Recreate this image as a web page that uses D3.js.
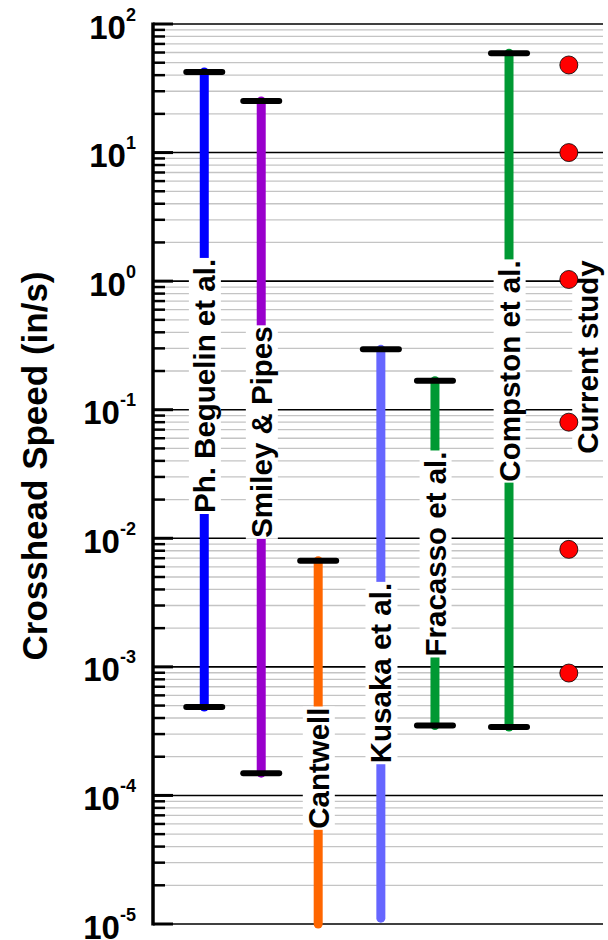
<!DOCTYPE html>
<html>
<head>
<meta charset="utf-8">
<script src="https://cdn.jsdelivr.net/npm/d3@7"></script>
<style>
  html, body { margin: 0; padding: 0; background: #fff; }
  svg { display: block; }
  text { font-family: "Liberation Sans", Arial, Helvetica, sans-serif; font-weight: bold; }
</style>
</head>
<body>
<svg id="chart" width="608" height="940"></svg>
<script>
// ---------------- data ----------------
const categories = ["Ph. Beguelin et al.", "Smiley & Pipes", "Cantwell", "Kusaka et al.", "Fracasso et al.", "Compston et al."];
const categoryX = [1, 2, 3, 4.1, 5.05, 6.35];          // x slot of each study
const lowSpeed  = [4.87e-4, 1.49e-4, 1.0e-5, 1.11e-5, 3.5e-4, 3.4e-4];
const highSpeed = [42.4, 25.2, 6.7e-3, 0.295, 0.168, 59.2];
const lowCap    = [true, true, false, false, true, true];
const highCap   = [true, true, true, true, true, true];
const colors    = ["#0000FF", "#9900CC", "#FF6600", "#6666FF", "#009933", "#009933"];
const labelSpeed = [0.153, 0.067, 1.63e-4, 8.95e-4, 7.55e-3, 0.2]; // where each label sits

const currentLabel = "Current study";
const currentX = 7.4;
const currentLabelX = 7.73;
const currentLabelSpeed = 0.257;
const currentSpeeds = [48, 10, 1.03, 0.08, 0.0082, 8.95e-4];

const yTickExponents = [2, 1, 0, -1, -2, -3, -4, -5];
const yTitle = "Crosshead Speed (in/s)";

// ---------------- layout ----------------
const plotL = 153, plotR = 603, plotT = 24, plotB = 924;
const svg = d3.select("#chart");

const y = d3.scaleLog().domain([1e-5, 100]).range([plotB, plotT]);
const x = d3.scaleLinear().domain([0.1, 8]).range([plotL, plotR]);

// minor grid lines
const minorVals = [];
for (let e = -5; e < 2; e++) for (let m = 2; m <= 9; m++) minorVals.push(m * Math.pow(10, e));
const majorVals = yTickExponents.map(e => Math.pow(10, e));

const grid = svg.append("g");
grid.selectAll("line.minor").data(minorVals).join("line")
  .attr("class", "minor")
  .attr("x1", plotL).attr("x2", plotR)
  .attr("y1", d => y(d)).attr("y2", d => y(d))
  .attr("stroke", "#c4c4c4").attr("stroke-width", 1.3);
grid.selectAll("line.major").data(majorVals).join("line")
  .attr("class", "major")
  .attr("x1", plotL).attr("x2", plotR)
  .attr("y1", d => y(d)).attr("y2", d => y(d))
  .attr("stroke", "#000").attr("stroke-width", 1.6);

// axis (ticks inward)
const axis = svg.append("g");
axis.selectAll("line.mt").data(minorVals).join("line")
  .attr("class", "mt")
  .attr("x1", plotL).attr("x2", plotL + 12)
  .attr("y1", d => y(d)).attr("y2", d => y(d))
  .attr("stroke", "#000").attr("stroke-width", 2.5);
axis.selectAll("line.Mt").data(majorVals).join("line")
  .attr("class", "Mt")
  .attr("x1", plotL).attr("x2", plotL + 20)
  .attr("y1", d => y(d)).attr("y2", d => y(d))
  .attr("stroke", "#000").attr("stroke-width", 3);
axis.append("line")
  .attr("x1", plotL).attr("x2", plotL)
  .attr("y1", plotT - 1.5).attr("y2", plotB + 1.5)
  .attr("stroke", "#000").attr("stroke-width", 3.5);

// tick labels
const tl = axis.selectAll("text.tick").data(yTickExponents).join("text")
  .attr("class", "tick")
  .attr("x", 136)
  .attr("y", d => y(Math.pow(10, d)) + 14.5)
  .attr("text-anchor", "end")
  .attr("fill", "#000");
tl.append("tspan").attr("font-size", 33).text("10");
tl.append("tspan").attr("font-size", 18).attr("dy", -18).text(d => String(d));

// axis title
svg.append("text")
  .attr("transform", `translate(47,466) rotate(-90)`)
  .attr("text-anchor", "middle")
  .attr("font-size", 35)
  .attr("fill", "#000")
  .text(yTitle);

// bars
const idx = d3.range(categories.length);
svg.append("g").selectAll("line").data(idx).join("line")
  .attr("x1", i => x(categoryX[i])).attr("x2", i => x(categoryX[i]))
  .attr("y1", i => y(lowSpeed[i])).attr("y2", i => y(highSpeed[i]))
  .attr("stroke", i => colors[i])
  .attr("stroke-width", 9)
  .attr("stroke-linecap", "round");

// caps
const caps = [];
idx.forEach(i => {
  if (lowCap[i]) caps.push({ i, v: lowSpeed[i] });
  if (highCap[i]) caps.push({ i, v: highSpeed[i] });
});
svg.append("g").selectAll("line").data(caps).join("line")
  .attr("x1", d => x(categoryX[d.i]) - 18).attr("x2", d => x(categoryX[d.i]) + 18)
  .attr("y1", d => y(d.v)).attr("y2", d => y(d.v))
  .attr("stroke", "#000")
  .attr("stroke-width", 6)
  .attr("stroke-linecap", "round");

// labels with white boxes
const labels = idx.map(i => ({ text: categories[i], xv: categoryX[i], yv: labelSpeed[i] }));
labels.push({ text: currentLabel, xv: currentLabelX, yv: currentLabelSpeed });

const lg = svg.append("g").selectAll("g").data(labels).join("g")
  .attr("transform", d => `translate(${x(d.xv)},${y(d.yv)}) rotate(-90)`);
lg.append("text")
  .attr("text-anchor", "middle")
  .attr("dy", "0.36em")
  .attr("font-size", 29.5)
  .attr("fill", "#000")
  .text(d => d.text);
lg.each(function() {
  const g = d3.select(this);
  const bb = g.select("text").node().getBBox();
  g.insert("rect", "text")
    .attr("x", bb.x - 1).attr("y", bb.y + 1)
    .attr("width", bb.width + 2).attr("height", bb.height - 1)
    .attr("fill", "#fff");
});

// current study points
svg.append("g").selectAll("circle").data(currentSpeeds).join("circle")
  .attr("cx", x(currentX))
  .attr("cy", d => y(d))
  .attr("r", 9)
  .attr("fill", "#FF0000")
  .attr("stroke", "#000")
  .attr("stroke-width", 0.8);
</script>
</body>
</html>
